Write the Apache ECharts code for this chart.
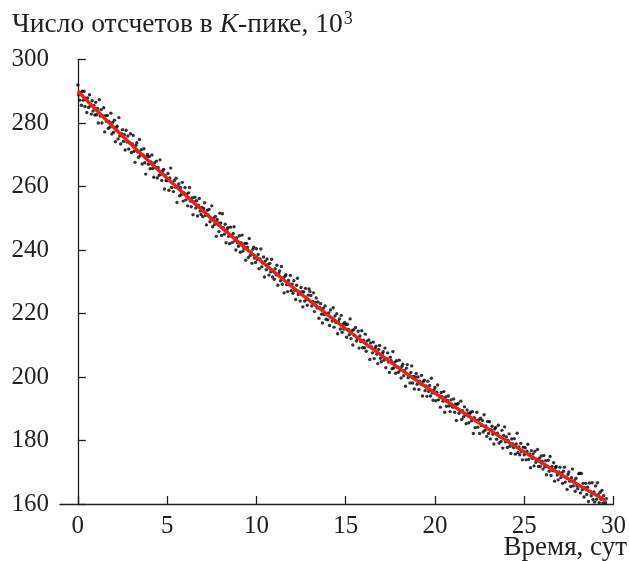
<!DOCTYPE html>
<html><head><meta charset="utf-8">
<script src="https://cdn.jsdelivr.net/npm/echarts@6/dist/echarts.min.js"></script>
<style>html,body{margin:0;padding:0;background:#fff}#c{width:629px;height:561px}</style>
</head><body><div id="c"></div><script>
// Time (days) tick labels and count ticks (10^3)
const xTicks = [0, 5, 10, 15, 20, 25, 30];
const yTicks = [160, 180, 200, 220, 240, 260, 280, 300];
// Sampling interval of the measurements, days
const sampleStep = 0.05;
// Measured counts (10^3) per day, 20 samples each
const d0 = [292.0,288.8,287.2,289.6,285.6,290.0,287.2,290.0,285.2,287.8,283.3,287.9,284.9,288.9,285.4,282.8,287.0,283.8,285.5,282.5];
const d1 = [286.5,282.6,284.6,280.0,287.3,282.2,284.2,280.0,282.2,284.8,277.2,282.3,280.5,282.4,278.3,280.5,278.7,283.1,276.5,280.2];
const d2 = [277.1,280.9,274.1,278.6,279.0,275.0,281.7,275.9,273.4,276.6,277.9,274.2,276.3,271.5,277.7,274.0,275.9,271.8,273.7,276.6];
const d3 = [270.7,273.4,276.1,271.1,267.6,273.0,273.8,270.9,269.2,274.8,269.8,271.6,267.1,269.9,271.9,267.5,263.9,269.5,270.1,267.0];
const d4 = [269.4,265.6,267.7,269.9,265.7,262.9,267.5,266.0,268.0,262.7,265.9,263.5,268.4,263.9,261.9,264.9,265.4,259.2,263.5,261.9];
const d5 = [261.9,264.1,258.8,262.7,265.8,259.7,261.2,258.4,261.9,259.8,262.6,255.0,259.9,260.8,257.1,259.7,257.5,261.3,255.4,258.0];
const d6 = [259.7,255.8,257.6,253.9,258.0,259.7,255.4,253.6,256.4,251.1,255.2,256.6,253.2,255.5,250.7,254.1,256.2,252.3,251.2,253.4];
const d7 = [250.5,253.0,254.9,250.9,247.9,252.5,251.0,252.8,248.9,249.9,253.9,247.3,250.0,248.0,250.6,244.3,249.6,248.5,245.8,251.6];
const d8 = [248.5,244.6,251.4,247.0,245.0,248.1,242.3,246.3,247.0,244.3,242.0,247.2,244.4,242.4,245.2,247.3,242.9,240.0,243.9,242.3];
const d9 = [241.2,244.5,239.3,242.3,244.7,239.7,240.6,242.1,236.8,242.1,240.8,237.6,243.6,238.3,239.3,235.8,240.2,240.9,237.5,236.1];
const d10 = [240.4,237.0,238.6,234.1,237.2,240.3,234.7,235.9,237.8,231.5,236.5,233.8,237.2,235.4,232.1,235.8,233.1,237.1,231.5,233.3];
const d11 = [230.8,234.1,232.2,235.2,228.9,232.6,233.4,230.3,234.8,229.2,231.2,226.5,231.7,232.2,229.1,226.9,230.4,229.3,232.0,227.2];
const d12 = [229.2,226.4,230.3,227.3,224.4,228.9,231.1,226.0,226.6,223.9,228.2,226.9,222.1,226.8,223.9,227.9,224.4,222.6,225.8,227.7];
const d13 = [226.9,225.7,222.4,223.8,226.5,220.6,223.5,224.9,221.7,223.6,218.5,221.9,223.1,219.8,217.0,221.7,219.7,222.4,218.2,219.9];
const d14 = [218.0,220.2,216.2,221.1,218.7,217.6,221.8,215.7,219.2,217.2,219.9,213.6,217.4,218.3,215.1,219.4,214.1,216.6,215.1,217.2];
const d15 = [216.5,212.5,216.6,215.0,213.3,218.3,212.1,214.6,210.1,214.9,213.1,215.6,211.3,212.0,214.4,209.1,212.9,211.2,214.6,209.2];
const d16 = [211.5,209.2,213.5,208.1,211.3,209.8,211.7,205.5,210.7,209.5,207.6,211.0,205.8,209.0,209.7,207.2,204.2,208.7,209.9,205.9];
const d17 = [204.8,207.3,208.0,205.3,209.1,202.9,205.8,207.6,204.7,201.4,206.2,205.1,202.6,208.0,202.9,204.7,201.2,205.1,203.1,201.5];
const d18 = [205.3,202.2,199.7,203.3,204.0,200.4,202.0,197.1,202.8,203.9,199.8,200.5,198.1,201.4,203.5,198.1,200.2,196.2,200.0,201.1];
const d19 = [197.7,200.0,196.1,198.7,197.8,200.5,194.0,198.5,199.0,195.7,197.2,193.9,198.7,195.5,197.3,194.0,199.6,195.0,192.7,195.9];
const d20 = [196.7,192.5,195.2,197.5,192.8,194.1,190.5,195.1,193.8,192.4,195.4,188.9,193.7,190.8,192.6,194.0,190.9,189.1,192.8,191.2];
const d21 = [190.5,193.1,188.9,191.4,186.3,191.4,191.7,188.6,189.5,192.4,186.6,189.4,187.4,190.6,188.0,185.3,189.6,188.5,185.6,188.5];
const d22 = [188.9,186.2,189.1,182.2,187.2,184.0,186.2,188.9,184.2,186.5,182.2,187.0,184.7,186.3,182.7,188.1,183.2,184.6,181.3,186.0];
const d23 = [182.2,185.9,180.5,183.4,184.5,182.0,178.9,183.6,184.1,180.4,182.3,184.8,179.2,181.2,179.7,183.2,177.6,181.6,184.3,179.6];
const d24 = [181.1,177.8,180.0,182.1,178.2,175.9,180.5,178.9,177.8,180.6,175.7,178.9,182.3,176.2,178.0,175.5,179.1,176.5,173.9,177.9];
const d25 = [175.5,177.7,173.9,176.6,178.8,174.0,175.8,171.4,176.8,174.4,175.8,172.0,176.6,173.1,174.0,177.2,171.8,174.4,171.9,175.1];
const d26 = [173.5,171.0,175.3,171.7,173.6,169.2,171.9,173.8,170.3,175.0,169.0,171.8,170.5,173.0,167.2,171.5,171.8,169.1,167.6,170.1];
const d27 = [171.6,168.3,169.7,166.5,170.3,171.6,166.9,168.4,164.6,169.3,170.1,167.2,165.5,168.3,171.0,165.7,167.3,164.0,168.1,165.7];
const d28 = [164.8,169.5,169.7,163.5,169.6,164.5,166.5,162.2,165.1,166.5,163.0,165.3,160.8,166.6,163.9,162.6,166.7,161.4,163.8,160.6];
const d29 = [165.7,161.5,166.7,162.9,160.4,163.7,161.5,164.3,160.3,162.6,161.3,160.4,161.7];
const days = [d0,d1,d2,d3,d4,d5,d6,d7,d8,d9,d10,d11,d12,d13,d14,d15,d16,d17,d18,d19,d20,d21,d22,d23,d24,d25,d26,d27,d28,d29];
// Fitted decay curve (red)
const fitT = [0, 2.5, 5, 7.5, 10, 12.5, 15, 17.5, 20, 22.5, 25, 27.5, 29.6];
const fitV = [290.0, 275.9, 262.6, 249.8, 237.7, 226.2, 215.2, 204.8, 194.9, 185.4, 176.4, 167.8, 161.0];

const points = [];
days.forEach((arr, d) => arr.forEach((v, i) => points.push([+(d + i * sampleStep).toFixed(2), v])));
const fitLine = fitT.map((t, i) => [t, fitV[i]]);

const FONT = 'Liberation Serif';
const INK = '#231f20';
const chart = echarts.init(document.getElementById('c'), null, {renderer: 'canvas'});
chart.setOption({
  animation: false,
  backgroundColor: '#fff',
  title: {
    left: 12, top: 10, padding: 0,
    text: '{t|Число отсчетов в }{i|K}{t|-пике, 10}{s|3}',
    textStyle: {
      fontWeight: 'normal',
      rich: {
        t: {fontFamily: FONT, fontSize: 27.5, fontWeight: 'normal', color: INK, lineHeight: 30},
        i: {fontFamily: FONT, fontSize: 27.5, fontStyle: 'italic', fontWeight: 'normal', color: INK, lineHeight: 30},
        s: {fontFamily: FONT, fontSize: 18, fontWeight: 'normal', color: INK, verticalAlign: 'top', lineHeight: 30, padding: [0, 0, 11, 1]}
      }
    }
  },
  graphic: [{
    type: 'text', right: 2, top: 534,
    style: {text: 'Время, сут', font: '27px "Liberation Serif"', fill: INK}
  }],
  grid: {left: 60, right: 13, top: 59.5, bottom: 57, containLabel: false},
  xAxis: {
    type: 'value', min: -1, max: 30,
    axisLine: {show: true, lineStyle: {color: INK, width: 1.3}},
    axisTick: {show: true, inside: true, length: 8, customValues: xTicks, lineStyle: {color: INK, width: 1.3}},
    axisLabel: {customValues: xTicks, fontFamily: FONT, fontSize: 25, color: INK, margin: 10},
    splitLine: {show: false}
  },
  yAxis: {
    type: 'value', min: 160, max: 300, interval: 20,
    axisLine: {show: true, lineStyle: {color: INK, width: 1.3}},
    axisTick: {show: true, inside: true, length: 8, customValues: yTicks, lineStyle: {color: INK, width: 1.3}},
    axisLabel: {customValues: yTicks, fontFamily: FONT, fontSize: 25, color: INK, margin: 11},
    splitLine: {show: false}
  },
  series: [
    {type: 'scatter', data: points, symbol: 'circle', symbolSize: 3.4, itemStyle: {color: '#000'}, z: 2},
    {type: 'line', data: fitLine, smooth: true, showSymbol: false, symbol: 'none',
     lineStyle: {color: '#e6221e', width: 3.4}, z: 3}
  ]
});
</script></body></html>
